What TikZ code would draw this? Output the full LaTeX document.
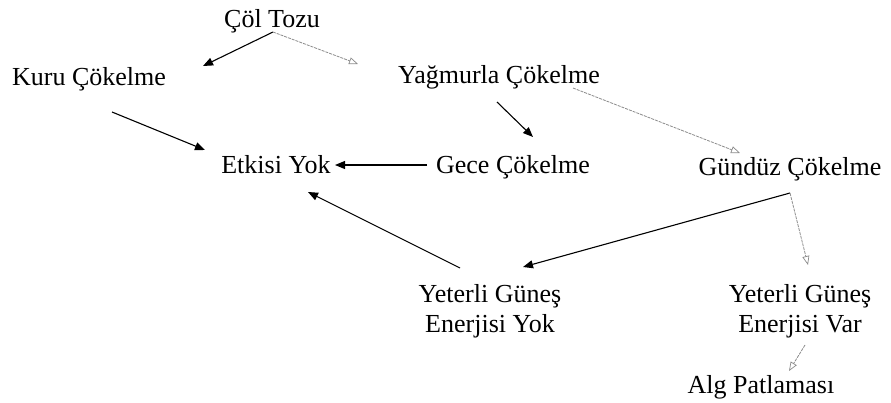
\documentclass[tikz,border=0pt]{standalone}
\usepackage{fontspec}
\setmainfont{Liberation Serif}
\usetikzlibrary{arrows.meta,calc}

\tikzset{
  lbl/.style={inner sep=0pt, font=\fontsize{26}{30}\selectfont, align=center},
  strong/.style={line width=1.1pt, draw=black,
    -{Triangle[length=10pt,width=8pt]}},
  faint/.style={line width=0.8pt, draw=black!45, dash pattern=on 3pt off 1pt,
    -{Triangle[open,length=9pt,width=7pt,line width=0.7pt]}}
}

\begin{document}
\begin{tikzpicture}[x=1pt,y=-1pt]
  \fill[white] (0,0) rectangle (891,402);
  \useasboundingbox (0,0) rectangle (891,402);

  % labels
  \node[lbl, anchor=base] (col)  at (272,27)  {Çöl Tozu};
  \node[lbl, anchor=base] (kuru) at (89,85)   {Kuru Çökelme};
  \node[lbl, anchor=base] (yag)  at (499,83)  {Yağmurla Çökelme};
  \node[lbl, anchor=base] (etk)  at (276,173) {Etkisi Yok};
  \node[lbl, anchor=base] (gece) at (513,173) {Gece Çökelme};
  \node[lbl, anchor=base] (gun)  at (790,175) {Gündüz Çökelme};
  \node[lbl] (yok) at (490,311) {Yeterli Güneş\\Enerjisi Yok};
  \node[lbl] (var) at (800,311) {Yeterli Güneş\\Enerjisi Var};
  \node[lbl, anchor=base] (alg)  at (761,393) {Alg Patlaması};

  % connectors
  \draw[strong] ($(col.base)+(1,5)$)    -- ($(kuru.base)+(114,-19)$);
  \draw[faint]  ($(col.base)+(1,5)$)    -- ($(yag.base)+(-141,-19)$);
  \draw[strong] ($(kuru.base)+(23,27)$) -- ($(etk.base)+(-71,-23)$);
  \draw[strong] ($(yag.base)+(-2,19)$)  -- ($(gece.base)+(20,-36)$);
  \draw[faint]  ($(yag.base)+(74,5)$)   -- ($(gun.base)+(-50,-22)$);
  \draw[strong] ($(gece.base)+(-86,-8)$) -- ($(etk.base)+(59,-8)$);
  \draw[strong] ($(yok.center)+(-30,-43)$) -- ($(etk.base)+(32,19)$);
  \draw[strong] ($(gun.base)+(0,18)$)   -- ($(yok.center)+(33,-44)$);
  \draw[faint]  ($(gun.base)+(0,18)$)   -- ($(var.center)+(8,-46)$);
  \draw[faint]  ($(var.center)+(5,34)$) -- ($(alg.base)+(28,-22)$);
\end{tikzpicture}
\end{document}
